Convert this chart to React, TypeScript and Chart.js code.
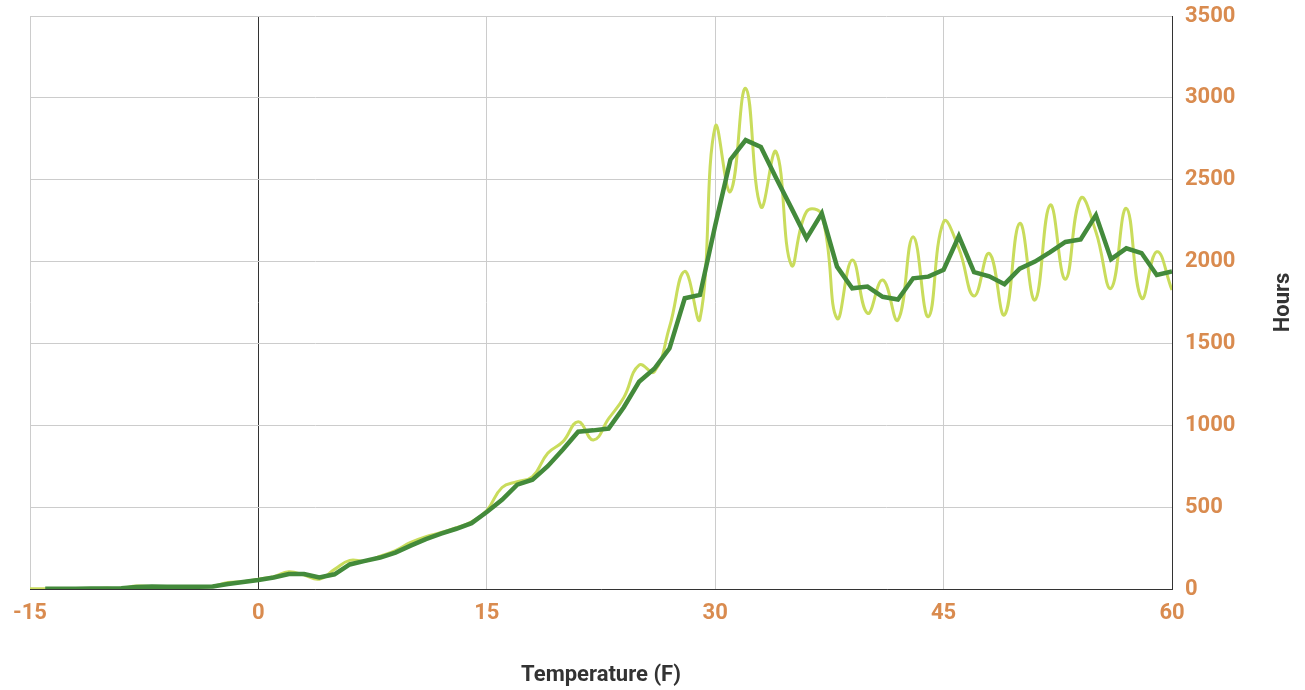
import React, { useEffect, useRef } from "react";
import { Chart, registerables } from "chart.js";

Chart.register(...registerables);

const temperatures = [
  -15, -14, -13, -12, -11, -10, -9, -8, -7, -6, -5, -4, -3, -2, -1,
  0, 1, 2, 3, 4, 5, 6, 7, 8, 9, 10, 11, 12, 13, 14,
  15, 16, 17, 18, 19, 20, 21, 22, 23, 24, 25, 26, 27, 28, 29,
  30, 31, 32, 33, 34, 35, 36, 37, 38, 39, 40, 41, 42, 43, 44,
  45, 46, 47, 48, 49, 50, 51, 52, 53, 54, 55, 56, 57, 58, 59, 60,
];

const hoursRaw = [
  2, 2, 1, 3, 2, 4, 5, 18, 15, 12, 14, 13, 17, 40, 45,
  60, 75, 105, 85, 60, 120, 175, 170, 200, 235, 285, 320, 345, 375, 410,
  480, 620, 655, 686, 829, 900, 1022, 910, 1040, 1170, 1368, 1327, 1600, 1940, 1650,
  2824, 2427, 3058, 2335, 2671, 1979, 2305, 2285, 1653, 2009, 1684, 1887, 1643, 2152, 1663,
  2243, 2080, 1790, 2050, 1674, 2234, 1765, 2346, 1892, 2386, 2182, 1837, 2325, 1776, 2060, 1826,
];

const hoursSmoothed = [
  null, 2, 2, 2, 3, 3, 4, 12, 16, 14, 13, 14, 15, 30, 43,
  55, 70, 92, 92, 71, 90, 150, 172, 192, 222, 265, 305, 338, 368, 402,
  470, 545, 637, 668, 750, 852, 961, 969, 980, 1110, 1266, 1345, 1470, 1776, 1796,
  2220, 2622, 2742, 2700, 2510, 2328, 2142, 2295, 1969, 1837, 1847, 1785, 1768, 1898, 1908,
  1950, 2155, 1936, 1910, 1862, 1957, 2000, 2058, 2120, 2135, 2284, 2015, 2081, 2052, 1918, 1940,
];

const xTicks = [-15, 0, 15, 30, 45, 60];
const yTicks = [0, 500, 1000, 1500, 2000, 2500, 3000, 3500];

const X_TITLE = "Temperature (F)";
const Y_TITLE = "Hours";

const ORANGE = "#d98b4f";
const DARK_TEXT = "#333333";
const DARK_GREEN = "#438a3b";
const LIGHT_GREEN = "#c9dc5c";
const FONT_SIZE = 22;

const yTitlePlugin = {
  id: "yTitleLeftRotated",
  afterDraw(chart: any) {
    const { ctx, chartArea } = chart;
    ctx.save();
    ctx.translate(1283, (chartArea.top + chartArea.bottom) / 2);
    ctx.rotate(-Math.PI / 2);
    ctx.font = `bold ${FONT_SIZE}px Roboto`;
    ctx.fillStyle = DARK_TEXT;
    ctx.textAlign = "center";
    ctx.textBaseline = "middle";
    ctx.fillText(Y_TITLE, 0, 0);
    ctx.restore();
  },
};

export default function App() {
  const canvasRef = useRef<HTMLCanvasElement | null>(null);

  useEffect(() => {
    if (!canvasRef.current) return;
    const toPoints = (vals: (number | null)[]) =>
      temperatures.map((t, i) => ({ x: t, y: vals[i] }));

    const chart = new Chart(canvasRef.current, {
      type: "line",
      data: {
        datasets: [
          {
            label: "Smoothed",
            data: toPoints(hoursSmoothed) as any,
            borderColor: DARK_GREEN,
            borderWidth: 4.5,
            pointRadius: 0,
            tension: 0,
            fill: false,
            order: 0,
            spanGaps: false,
          },
          {
            label: "Hours",
            data: toPoints(hoursRaw) as any,
            borderColor: LIGHT_GREEN,
            borderWidth: 3,
            pointRadius: 0,
            tension: 0.45,
            fill: false,
            order: 1,
          },
        ],
      },
      options: {
        animation: false,
        responsive: false,
        devicePixelRatio: 1,
        layout: { padding: { left: 30, top: 16, right: 0, bottom: 0 } },
        plugins: {
          legend: { display: false },
          tooltip: { enabled: false },
        },
        scales: {
          x: {
            type: "linear",
            min: -15,
            max: 60,
            afterBuildTicks: (scale: any) => {
              scale.ticks = xTicks.map((v) => ({ value: v }));
            },
            afterFit: (scale: any) => {
              scale.height = 101;
              scale.paddingLeft = 0;
              scale.paddingRight = 0;
            },
            grid: {
              color: (c: any) => (c.tick && c.tick.value === 0 ? "#333333" : "#cccccc"),
              lineWidth: 1,
              drawTicks: false,
            },
            border: { color: "#333333", width: 1 },
            ticks: {
              padding: 11,
              color: ORANGE,
              font: { family: "Roboto", size: FONT_SIZE, weight: "bold" },
              maxRotation: 0,
              autoSkip: false,
              callback: (v: any) => String(v),
            },
            title: {
              display: true,
              text: X_TITLE,
              color: DARK_TEXT,
              font: { family: "Roboto", size: FONT_SIZE, weight: "bold" },
              padding: { top: 0, bottom: 1 },
            },
          },
          y: {
            type: "linear",
            position: "right",
            min: 0,
            max: 3500,
            afterBuildTicks: (scale: any) => {
              scale.ticks = yTicks.map((v) => ({ value: v }));
            },
            afterFit: (scale: any) => {
              scale.width = 133;
              scale.paddingTop = 0;
              scale.paddingBottom = 0;
            },
            grid: {
              color: "#cccccc",
              lineWidth: 1,
              drawTicks: false,
            },
            border: { color: "#333333", width: 1 },
            ticks: {
              padding: 13,
              color: ORANGE,
              font: { family: "Roboto", size: FONT_SIZE, weight: "bold" },
              autoSkip: false,
              callback: (v: any) => String(v),
            },
          },
        },
      } as any,
      plugins: [yTitlePlugin],
    });

    return () => chart.destroy();
  }, []);

  return (
    <div style={{ position: "fixed", left: 0, top: 0, width: 1305, height: 690, background: "#ffffff" }}>
      <canvas ref={canvasRef} width={1305} height={690} style={{ display: "block" }} />
    </div>
  );
}
